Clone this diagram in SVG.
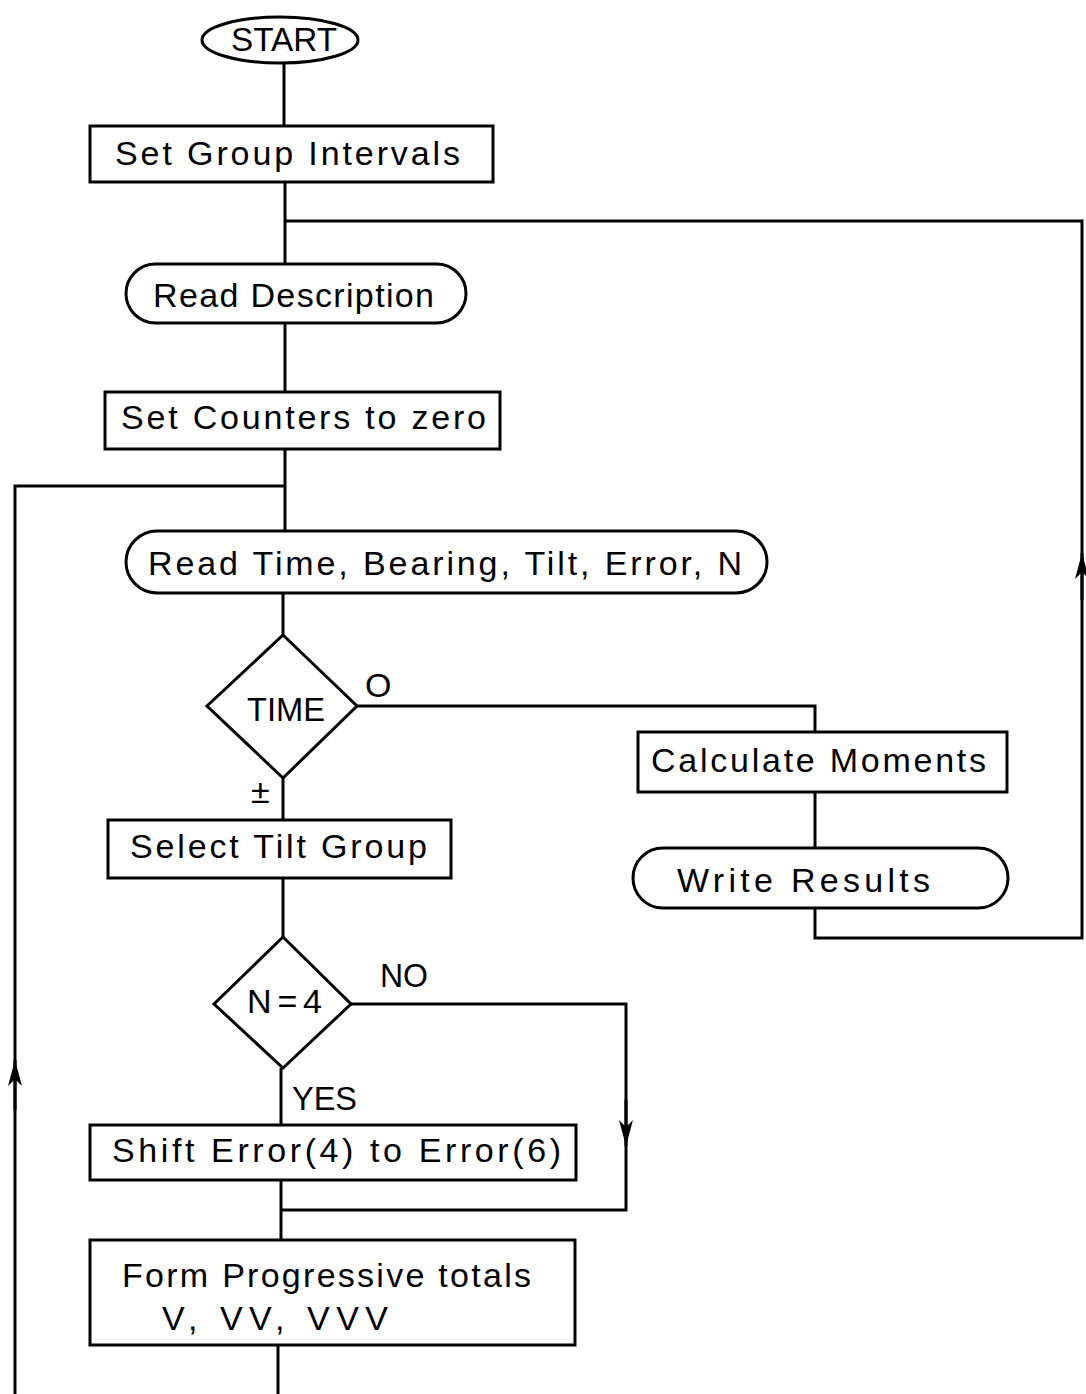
<svg xmlns="http://www.w3.org/2000/svg" width="1086" height="1394" viewBox="0 0 1086 1394">
<defs>
<style>
.s{fill:none;stroke:#000;stroke-width:3}
.n{fill:#fff;stroke:#000;stroke-width:3}
.t{font-family:"Liberation Sans","DejaVu Sans",sans-serif;font-size:34px;fill:#000}
.c{text-anchor:middle}
</style>
<marker id="ah" viewBox="0 0 26 14" refX="26" refY="7" markerWidth="26" markerHeight="14" markerUnits="userSpaceOnUse" orient="auto">
<path d="M0,0 L26,7 L0,14 L7,7 Z" fill="#000"/>
</marker>
</defs>
<rect width="1086" height="1394" fill="#fff"/>
<g id="connectors">
<path class="s" d="M284,62 V126"/>
<path class="s" d="M285,182 V264"/>
<path class="s" d="M285,221 H1082 V938 H815 V908"/>
<path class="s" d="M1082,600 V553" marker-end="url(#ah)"/>
<path class="s" d="M285,323 V392"/>
<path class="s" d="M285,449 V531"/>
<path class="s" d="M15,1394 V486 H285"/>
<path class="s" d="M15,1110 V1060" marker-end="url(#ah)"/>
<path class="s" d="M283,593 V635"/>
<path class="s" d="M357,706 H815 V732"/>
<path class="s" d="M815,792 V848"/>
<path class="s" d="M283,778 V820"/>
<path class="s" d="M283,878 V937"/>
<path class="s" d="M351,1004 H626 V1210 H281"/>
<path class="s" d="M626,1100 V1146" marker-end="url(#ah)"/>
<path class="s" d="M281,1068 V1125"/>
<path class="s" d="M281,1180 V1240"/>
<path class="s" d="M278,1345 V1394"/>
</g>
<g id="start">
<ellipse class="n" cx="280" cy="40" rx="78" ry="23"/>
<text class="t c" x="284" y="51" font-size="30" textLength="106" lengthAdjust="spacingAndGlyphs">START</text>
</g>
<g id="set-group-intervals">
<rect class="n" x="90" y="126" width="403" height="56"/>
<text class="t" x="115" y="165" textLength="345" lengthAdjust="spacing">Set Group Intervals</text>
</g>
<g id="read-description">
<rect class="n" x="126" y="264" width="340" height="59" rx="29.5"/>
<text class="t" x="153" y="307" textLength="281" lengthAdjust="spacing">Read Description</text>
</g>
<g id="set-counters">
<rect class="n" x="105" y="392" width="395" height="57"/>
<text class="t" x="121" y="429" textLength="365" lengthAdjust="spacing">Set Counters to zero</text>
</g>
<g id="read-time">
<rect class="n" x="126" y="531" width="641" height="62" rx="31"/>
<text class="t" x="148" y="575" textLength="594" lengthAdjust="spacing">Read Time, Bearing, Tilt, Error,  N</text>
</g>
<g id="time-decision">
<polygon class="n" points="283,635 357,706 283,778 207,706"/>
<text class="t" x="247" y="721" font-size="32" textLength="78" lengthAdjust="spacingAndGlyphs">TIME</text>
<text class="t" x="365" y="697" font-size="30">O</text>
<text class="t" x="251" y="803" font-size="26">±</text>
</g>
<g id="calculate-moments">
<rect class="n" x="638" y="732" width="369" height="60"/>
<text class="t" x="651" y="772" textLength="335" lengthAdjust="spacing">Calculate Moments</text>
</g>
<g id="write-results">
<rect class="n" x="633" y="848" width="375" height="60" rx="30"/>
<text class="t" x="677" y="892" textLength="253" lengthAdjust="spacing">Write   Results</text>
</g>
<g id="select-tilt-group">
<rect class="n" x="108" y="820" width="343" height="58"/>
<text class="t" x="130" y="858" textLength="297" lengthAdjust="spacing">Select Tilt Group</text>
</g>
<g id="n4-decision">
<polygon class="n" points="283,937 351,1004 283,1068 214,1004"/>
<text class="t" x="247" y="1013" font-size="32" textLength="75" lengthAdjust="spacing">N=4</text>
<text class="t" x="380" y="987" font-size="30" textLength="48" lengthAdjust="spacingAndGlyphs">NO</text>
<text class="t" x="292" y="1110" font-size="30" textLength="65" lengthAdjust="spacingAndGlyphs">YES</text>
</g>
<g id="shift-error">
<rect class="n" x="90" y="1125" width="486" height="55"/>
<text class="t" x="112" y="1162" textLength="449" lengthAdjust="spacing">Shift Error(4) to Error(6)</text>
</g>
<g id="form-totals">
<rect class="n" x="90" y="1240" width="485" height="105"/>
<text class="t" x="122" y="1287" textLength="409" lengthAdjust="spacing">Form Progressive totals</text>
<text class="t" x="162" y="1330" textLength="226" lengthAdjust="spacing">V, VV, VVV</text>
</g>
</svg>
